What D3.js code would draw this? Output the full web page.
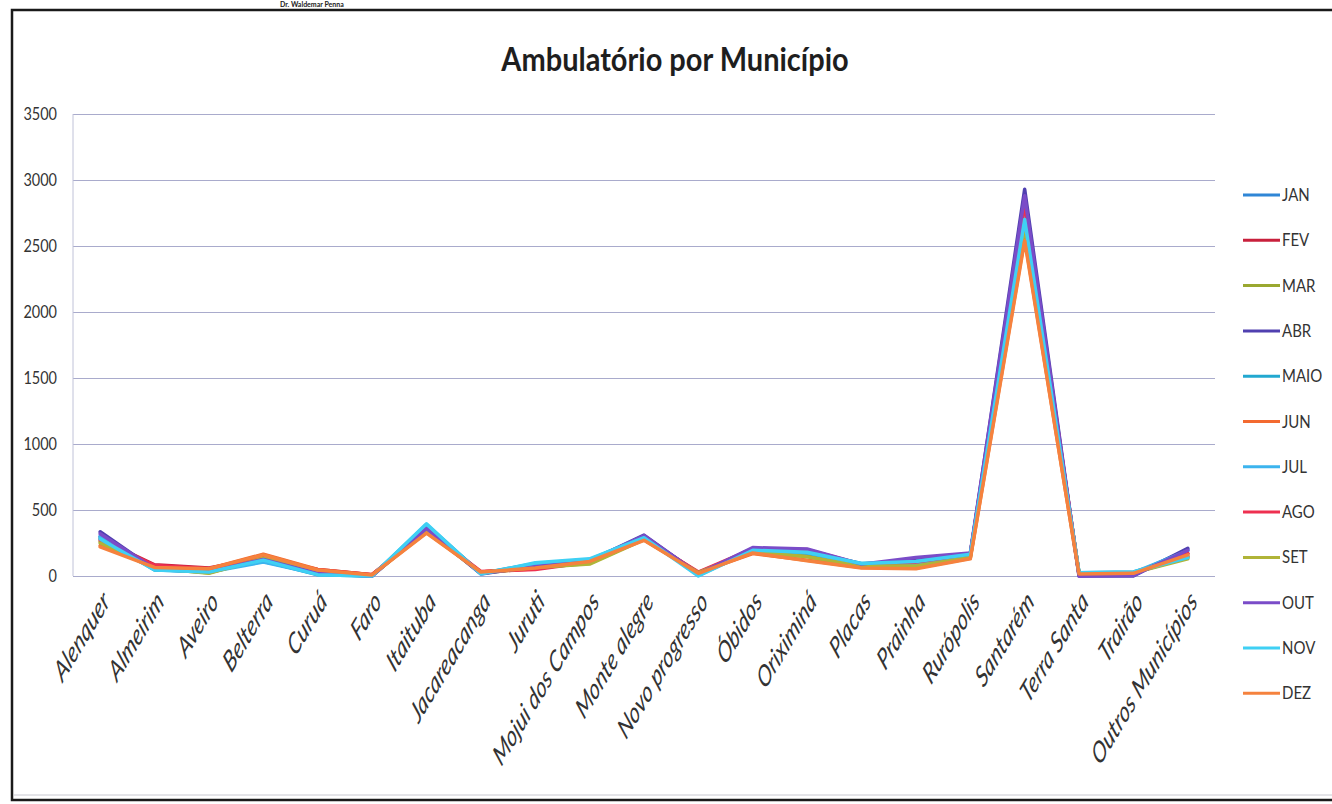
<!DOCTYPE html>
<html>
<head>
<meta charset="utf-8">
<script src="https://cdn.jsdelivr.net/npm/d3@7"></script>
<style>
  html, body { margin: 0; padding: 0; background: #ffffff; }
  svg { display: block; }
</style>
</head>
<body>
<svg id="chart" width="1332" height="804"></svg>
<script>
const categories = ["Alenquer", "Almeirim", "Aveiro", "Belterra", "Curuá", "Faro", "Itaituba",
  "Jacareacanga", "Juruti", "Mojui dos Campos", "Monte alegre", "Novo progresso", "Óbidos",
  "Oriximiná", "Placas", "Prainha", "Rurópolis", "Santarém", "Terra Santa", "Trairão", "Outros Municípios"];
const months = ["JAN", "FEV", "MAR", "ABR", "MAIO", "JUN", "JUL", "AGO", "SET", "OUT", "NOV", "DEZ"];

const jan  = [300, 60, 40, 110, 20, 5, 370, 25, 70, 110, 300, 20, 190, 170, 80, 90, 150, 2750, 10, 15, 200];
const fev  = [280, 85, 60, 140, 50, 10, 340, 30, 60, 100, 290, 25, 200, 200, 90, 100, 165, 2830, 15, 20, 170];
const mar  = [260, 55, 25, 130, 40, 5, 345, 20, 65, 95, 280, 20, 180, 150, 70, 80, 145, 2700, 20, 25, 140];
const abr  = [335, 50, 30, 120, 15, 0, 355, 15, 75, 115, 310, 15, 210, 195, 85, 120, 160, 2930, 0, 0, 210];
const maio = [290, 45, 35, 115, 10, 0, 390, 20, 95, 125, 295, 5, 195, 180, 95, 110, 170, 2690, 25, 30, 150];
const jun  = [230, 70, 55, 165, 50, 10, 330, 30, 55, 110, 275, 25, 170, 120, 65, 60, 135, 2560, 10, 20, 150];
const jul  = [300, 50, 30, 105, 15, 0, 380, 20, 90, 120, 300, 10, 200, 175, 85, 95, 160, 2720, 20, 25, 190];
const ago  = [270, 80, 55, 145, 45, 10, 345, 35, 50, 105, 285, 30, 205, 190, 90, 105, 165, 2820, 15, 20, 170];
const setm = [250, 60, 20, 135, 40, 5, 340, 25, 65, 90, 275, 25, 185, 145, 75, 75, 140, 2650, 20, 25, 130];
const outm = [320, 55, 35, 125, 20, 0, 360, 20, 70, 115, 305, 15, 215, 205, 90, 140, 175, 2880, 0, 5, 195];
const nov  = [280, 45, 30, 120, 10, 0, 395, 15, 100, 130, 290, 0, 195, 180, 95, 110, 165, 2700, 25, 30, 140];
const dez  = [220, 65, 55, 160, 45, 8, 325, 30, 60, 110, 270, 20, 175, 115, 60, 55, 130, 2540, 15, 20, 160];

const seriesValues = [jan, fev, mar, abr, maio, jun, jul, ago, setm, outm, nov, dez];
const colors = ["#2f86d6", "#c8203c", "#9aa830", "#5040b0", "#22a8d0", "#f36a30",
                "#3cb4ee", "#ee3050", "#b0b438", "#7a4cc8", "#3fd0f4", "#f5823e"];
const yTicks = [0, 500, 1000, 1500, 2000, 2500, 3000, 3500];

const svg = d3.select("#chart");
const FONT = "Lato, 'Open Sans', sans-serif";

// page header
svg.append("text").attr("x", 280).attr("y", 7)
  .attr("font-family", FONT).attr("font-weight", "bold").attr("font-size", 7)
  .attr("fill", "#222").text("Dr. Waldemar Penna");

// outer frame
svg.append("rect").attr("x", 12).attr("y", 10).attr("width", 1340).attr("height", 790)
  .attr("fill", "none").attr("stroke", "#1a1a1a").attr("stroke-width", 2.5);
svg.append("line").attr("x1", 14).attr("x2", 1332).attr("y1", 795).attr("y2", 795)
  .attr("stroke", "#c8c8d0").attr("stroke-width", 1);

// title
svg.append("text").attr("text-anchor", "middle")
  .attr("transform", "translate(675,71) scale(1,1.12)")
  .attr("font-family", FONT).attr("font-weight", "bold").attr("font-size", 29)
  .attr("fill", "#1e1e1e").text("Ambulatório por Município");

const plotLeft = 73, plotRight = 1215, plotTop = 114, plotBottom = 576;
const x = d3.scalePoint().domain(categories).range([plotLeft, plotRight]).padding(0.5);
const y = d3.scaleLinear().domain([0, 3500]).range([plotBottom, plotTop]);

// y gridlines + labels
const yAxis = svg.append("g").attr("transform", `translate(${plotLeft},0)`)
  .call(d3.axisLeft(y).tickValues(yTicks).tickSize(-(plotRight - plotLeft)).tickPadding(15).tickFormat(d3.format("d")));
yAxis.select(".domain").remove();
yAxis.selectAll(".tick line").attr("stroke", "#a9abcc").attr("stroke-width", 1);
yAxis.selectAll(".tick text")
  .attr("x", 0).attr("dy", 0)
  .attr("transform", "translate(-16,5) scale(1,1.2)")
  .attr("font-family", FONT).attr("font-size", 14.5).attr("fill", "#333");

// vertical axis line
svg.append("line").attr("x1", plotLeft).attr("x2", plotLeft).attr("y1", plotTop).attr("y2", plotBottom)
  .attr("stroke", "#c0c2d8").attr("stroke-width", 1);

// x axis labels
const xAxis = svg.append("g").attr("transform", `translate(0,${plotBottom})`)
  .call(d3.axisBottom(x).tickSize(0));
xAxis.select(".domain").remove();
xAxis.selectAll(".tick text")
  .attr("x", 0).attr("y", 0).attr("dy", 0)
  .attr("text-anchor", "end")
  .attr("transform", "translate(10,27) scale(1,1.55) rotate(-47)")
  .attr("font-family", FONT).attr("font-style", "italic").attr("font-size", 19).attr("fill", "#333");

// lines
const line = d3.line().x((d, i) => x(categories[i])).y(d => y(d)).curve(d3.curveLinear);
svg.append("g").selectAll("path").data(seriesValues).join("path")
  .attr("d", d => line(d))
  .attr("fill", "none")
  .attr("stroke", (d, i) => colors[i])
  .attr("stroke-width", 3.5)
  .attr("stroke-linejoin", "round")
  .attr("stroke-linecap", "round");

// legend
const legend = svg.append("g");
months.forEach((m, i) => {
  const ly = 195 + i * 45.3;
  legend.append("line").attr("x1", 1243).attr("x2", 1280).attr("y1", ly).attr("y2", ly)
    .attr("stroke", colors[i]).attr("stroke-width", 3);
  legend.append("text")
    .attr("transform", `translate(1282,${ly + 6}) scale(1,1.2)`)
    .attr("font-family", FONT).attr("font-size", 15).attr("fill", "#333").text(m);
});
</script>
</body>
</html>
